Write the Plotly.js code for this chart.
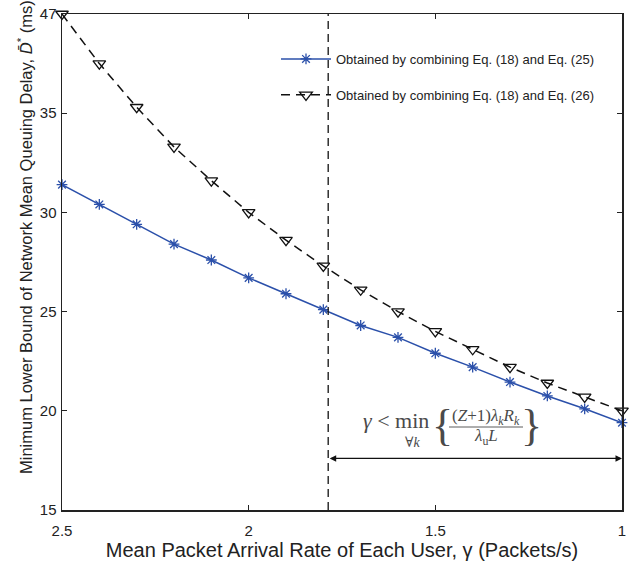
<!DOCTYPE html>
<html>
<head>
<meta charset="utf-8">
<script src="https://cdn.plot.ly/plotly-3.0.1.min.js"></script>
<style>html,body{margin:0;padding:0;background:#fff;}#chart{width:634px;height:563px;}</style>
</head>
<body>
<div id="chart"></div>
<script>
// Data
var gammaValues = [2.5, 2.4, 2.3, 2.2, 2.1, 2.0, 1.9, 1.8, 1.7, 1.6, 1.5, 1.4, 1.3, 1.2, 1.1, 1.0];
var delayEq25 = [31.4, 30.4, 29.4, 28.4, 27.6, 26.7, 25.9, 25.1, 24.3, 23.7, 22.9, 22.2, 21.45, 20.75, 20.1, 19.4];
var delayEq26 = [40.0, 37.5, 35.3, 33.3, 31.6, 30.0, 28.6, 27.3, 26.1, 25.0, 24.0, 23.1, 22.2, 21.4, 20.7, 20.0];
var seriesNames = ["Obtained by combining Eq. (18) and Eq. (25)", "Obtained by combining Eq. (18) and Eq. (26)"];
var xTickVals = [2.5, 2, 1.5, 1];
var xTickText = ["2.5", "2", "1.5", "1"];
var yTickVals = [15, 20, 25, 30, 35, 40];
var yTickText = ["15", "20", "25", "30", "35", "47"];
var gammaBound = 1.787;
var arrowLevel = 17.6;
var xTitle = "Mean Packet Arrival Rate of Each User, γ (Packets/s)";
var yTitle = "Minimum Lower Bound of Network Mean Queuing Delay, <i>D̄</i><sup>*</sup> (ms)";

var FONT = "Liberation Sans, Arial, Helvetica, sans-serif";
var SERIF = "Liberation Serif, DejaVu Serif, Times New Roman, serif";
var blue = "#2b50aa";
var mathGray = "#4a4a4a";

var traces = [
  {
    x: gammaValues, y: delayEq25, name: seriesNames[0], type: "scatter", mode: "lines+markers",
    legendgroup: "a",
    line: {color: blue, width: 1.5},
    marker: {symbol: "asterisk-open", size: 9, color: blue, line: {color: blue, width: 1.3}},
    cliponaxis: false
  },
  {
    x: gammaValues, y: delayEq26, name: seriesNames[1], type: "scatter", mode: "lines+markers",
    legendgroup: "b",
    line: {color: "#111", width: 1.5, dash: "9px,6px"},
    marker: {symbol: "triangle-down-open", size: 11, color: "#111", line: {color: "#111", width: 1.3}},
    cliponaxis: false
  }
];

// pixel helpers for annotation placement
var L = 62, R = 622, T = 14, B = 510;
function px(x) { return (x - L) / (R - L); }
function py(y) { return (B - y) / (B - T); }

var annotations = [
  {x: gammaValues[gammaValues.length - 1], y: arrowLevel, ax: gammaBound, ay: arrowLevel,
   xref: "x", yref: "y", axref: "x", ayref: "y", text: "", showarrow: true,
   arrowside: "end+start", arrowhead: 2, arrowsize: 1, arrowwidth: 1.3, arrowcolor: "#111",
   standoff: 0, startstandoff: 0},
  {x: px(396), y: py(420), xref: "paper", yref: "paper", text: "<i>γ</i> < min", showarrow: false,
   font: {family: SERIF, size: 22, color: mathGray}, xanchor: "center", yanchor: "middle"},
  {x: px(412), y: py(442), xref: "paper", yref: "paper", text: "∀<i>k</i>", showarrow: false,
   font: {family: SERIF, size: 14, color: mathGray}, xanchor: "center", yanchor: "middle"},
  {x: px(442), y: py(425), xref: "paper", yref: "paper", text: "{", showarrow: false,
   font: {family: SERIF, size: 44, color: mathGray}, xanchor: "center", yanchor: "middle"},
  {x: px(531), y: py(425), xref: "paper", yref: "paper", text: "}", showarrow: false,
   font: {family: SERIF, size: 44, color: mathGray}, xanchor: "center", yanchor: "middle"},
  {x: px(486), y: py(417), xref: "paper", yref: "paper", text: "(<i>Z</i>+1)<i>λ<sub>k</sub>R<sub>k</sub></i>", showarrow: false,
   font: {family: SERIF, size: 17, color: mathGray}, xanchor: "center", yanchor: "middle"},
  {x: px(486), y: py(437), xref: "paper", yref: "paper", text: "<i>λ</i><sub>u</sub><i>L</i>", showarrow: false,
   font: {family: SERIF, size: 17, color: mathGray}, xanchor: "center", yanchor: "middle"},
  {x: px(25), y: py(237), xref: "paper", yref: "paper", text: yTitle, showarrow: false, textangle: -90,
   font: {family: FONT, size: 16.5, color: "#222"}, xanchor: "center", yanchor: "middle"}
];

var shapes = [
  {type: "line", xref: "x", yref: "paper", x0: gammaBound, x1: gammaBound, y0: 0, y1: 1,
   line: {color: "#111", width: 1.3, dash: "8px,5px"}},
  {type: "line", xref: "paper", yref: "paper", x0: px(449), x1: px(523), y0: py(427), y1: py(427),
   line: {color: mathGray, width: 0.9}}
];

var axisCommon = {
  showline: true, linecolor: "#222", linewidth: 1.5, mirror: "ticks",
  ticks: "inside", ticklen: 5, tickwidth: 1.3, tickcolor: "#222",
  showgrid: false, zeroline: false,
  tickfont: {family: FONT, size: 15, color: "#222"}
};

var layout = {
  width: 634, height: 563,
  margin: {l: 62, r: 12, t: 14, b: 53},
  paper_bgcolor: "#fff", plot_bgcolor: "#fff",
  font: {family: FONT, color: "#222"},
  showlegend: true,
  legend: {x: px(276), y: py(44), xanchor: "left", yanchor: "top",
           bgcolor: "rgba(0,0,0,0)", font: {family: FONT, size: 13, color: "#222"},
           traceorder: "grouped", tracegroupgap: 16, itemwidth: 50},
  xaxis: Object.assign({}, axisCommon, {
    range: [2.5, 1], tickvals: xTickVals, ticktext: xTickText, ticklabelstandoff: 6,
    title: {text: xTitle, font: {family: FONT, size: 20, color: "#222"}, standoff: 0}
  }),
  yaxis: Object.assign({}, axisCommon, {
    range: [15, 40], tickvals: yTickVals, ticktext: yTickText, ticklabelstandoff: 1
  }),
  annotations: annotations,
  shapes: shapes
};

Plotly.newPlot("chart", traces, layout, {displayModeBar: false, staticPlot: true});
</script>
</body>
</html>
